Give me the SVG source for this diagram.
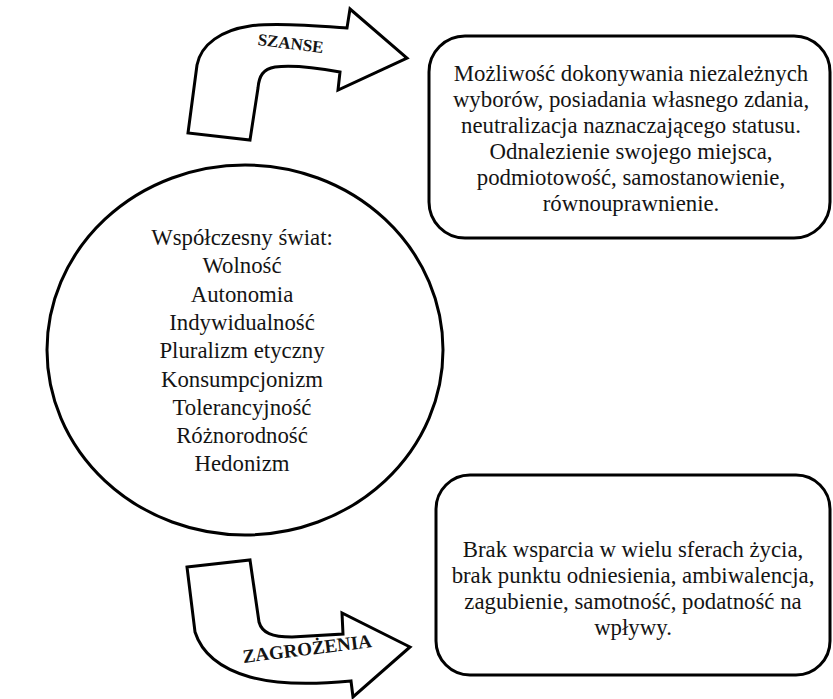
<svg xmlns="http://www.w3.org/2000/svg" width="833" height="699" viewBox="0 0 833 699">
<style>
.shape{fill:#fff;stroke:#000;stroke-width:3;stroke-linejoin:miter}
.t{font-family:"Liberation Serif","Times New Roman",serif;font-size:22.8px;fill:#141414;text-anchor:middle}
.lbl{font-family:"Liberation Serif","Times New Roman",serif;font-weight:bold;fill:#141414;text-anchor:middle}
</style>
<rect width="833" height="699" fill="#fff"/>
<g id="connectors">
<g id="arrow-szanse">
<path class="shape" d="M188,133 L197,65 C201,44 222,30 250,26 C275,22 320,26 347,28 L350,9 L407,58 L338,90 L340,72 C318,68 292,65 275,67 C263,69 259,76 258,88 L250,140 Z"/>
<text class="lbl" font-size="17" transform="rotate(7 290 49)" x="290" y="49">SZANSE</text>
</g>
<g id="arrow-zagrozenia">
<path class="shape" d="M187,567 L250,560 L259,622 C262,633 272,637 292,637 L343,634 L342,613 L410,647 L353,697 L351,681 C330,683 285,687 250,677 C222,669 202,654 195,632 Z"/>
<text class="lbl" font-size="19" transform="rotate(-7 308 655)" x="308" y="655">ZAGROŻENIA</text>
</g>
</g>
<g id="node-world">
<ellipse class="shape" cx="245" cy="350" rx="198" ry="185"/>
<text class="t" x="242" y="245">Współczesny świat:</text>
<text class="t" x="242" y="273">Wolność</text>
<text class="t" x="242" y="302">Autonomia</text>
<text class="t" x="242" y="330">Indywidualność</text>
<text class="t" x="242" y="358">Pluralizm etyczny</text>
<text class="t" x="242" y="387">Konsumpcjonizm</text>
<text class="t" x="242" y="415">Tolerancyjność</text>
<text class="t" x="242" y="443">Różnorodność</text>
<text class="t" x="242" y="471">Hedonizm</text>
</g>
<g id="node-szanse">
<rect class="shape" x="429" y="36" width="401" height="202" rx="36" ry="36"/>
<text class="t" x="631" y="81">Możliwość dokonywania niezależnych</text>
<text class="t" x="631" y="107">wyborów, posiadania własnego zdania,</text>
<text class="t" x="631" y="133">neutralizacja naznaczającego statusu.</text>
<text class="t" x="631" y="159">Odnalezienie swojego miejsca,</text>
<text class="t" x="631" y="185">podmiotowość, samostanowienie,</text>
<text class="t" x="631" y="211">równouprawnienie.</text>
</g>
<g id="node-zagrozenia">
<rect class="shape" x="436" y="475" width="394" height="200" rx="34" ry="34"/>
<text class="t" x="633" y="557">Brak wsparcia w wielu sferach życia,</text>
<text class="t" x="633" y="583">brak punktu odniesienia, ambiwalencja,</text>
<text class="t" x="633" y="609">zagubienie, samotność, podatność na</text>
<text class="t" x="633" y="635">wpływy.</text>
</g>
</svg>
